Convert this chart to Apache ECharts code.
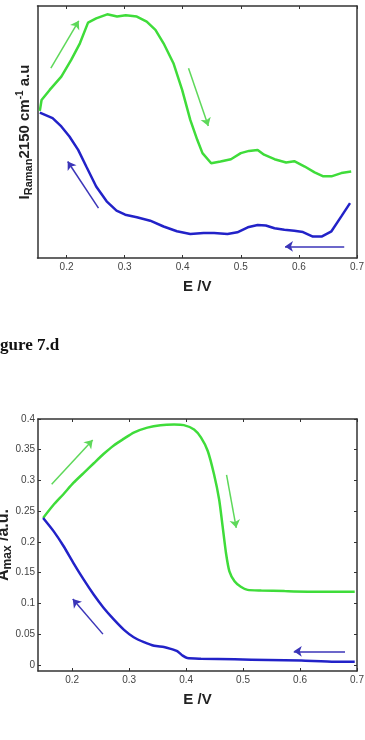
<!DOCTYPE html>
<html>
<head>
<meta charset="utf-8">
<script src="https://cdn.jsdelivr.net/npm/echarts@6/dist/echarts.min.js"></script>
<style>
  html, body { margin: 0; padding: 0; background: #fff; }
  #chart { width: 365px; height: 740px; }
</style>
</head>
<body>
<div id="chart"></div>
<script>
// --- top panel: Raman intensity at 2150 cm-1 (arbitrary units, 0..100) ---
var ramanUpE = [0.154, 0.157, 0.171, 0.191, 0.208, 0.223, 0.237, 0.251, 0.270, 0.287, 0.302, 0.321, 0.338, 0.353, 0.367, 0.384, 0.399, 0.413, 0.425, 0.434, 0.449, 0.465, 0.483, 0.500, 0.514, 0.529, 0.540, 0.558, 0.578, 0.592, 0.610, 0.627, 0.642, 0.656, 0.673, 0.690];
var ramanUpI = [58.4, 62.7, 66.7, 72.0, 78.6, 85.2, 93.4, 95.1, 96.7, 95.8, 96.3, 95.8, 93.8, 90.5, 85.2, 77.3, 66.7, 54.8, 46.9, 41.6, 37.6, 38.3, 39.2, 41.6, 42.5, 42.9, 41.0, 39.2, 37.9, 38.4, 36.3, 34.0, 32.4, 32.4, 33.7, 34.3];
var ramanDownE = [0.154, 0.176, 0.191, 0.205, 0.220, 0.234, 0.251, 0.269, 0.286, 0.301, 0.321, 0.344, 0.367, 0.390, 0.413, 0.436, 0.454, 0.477, 0.494, 0.512, 0.529, 0.543, 0.558, 0.575, 0.592, 0.607, 0.624, 0.639, 0.656, 0.673, 0.688];
var ramanDownI = [57.7, 55.5, 52.2, 48.2, 42.9, 36.3, 28.4, 22.5, 18.8, 17.2, 16.2, 14.8, 12.5, 10.6, 9.5, 9.9, 9.9, 9.5, 10.2, 12.2, 13.1, 12.9, 11.8, 11.2, 10.8, 10.3, 8.5, 8.5, 10.6, 16.5, 21.8];
// scan-direction arrows [E1, I1, E2, I2]
var ramanUpArrows = [[0.173, 75.3, 0.221, 94.1], [0.410, 75.3, 0.444, 52.4]];
var ramanDownArrows = [[0.255, 19.8, 0.202, 38.3], [0.678, 4.6, 0.576, 4.6]];

// --- bottom panel: A max (a.u.) ---
var absUpE = [0.149, 0.167, 0.185, 0.202, 0.220, 0.238, 0.255, 0.273, 0.291, 0.308, 0.332, 0.355, 0.379, 0.396, 0.414, 0.426, 0.438, 0.449, 0.458, 0.464, 0.470, 0.476, 0.485, 0.496, 0.508, 0.532, 0.573, 0.632, 0.696];
var absUpA = [0.239, 0.260, 0.278, 0.296, 0.312, 0.328, 0.343, 0.357, 0.368, 0.378, 0.386, 0.390, 0.391, 0.390, 0.383, 0.370, 0.348, 0.310, 0.269, 0.226, 0.182, 0.152, 0.136, 0.127, 0.122, 0.121, 0.120, 0.119, 0.119];
var absDownE = [0.149, 0.167, 0.185, 0.202, 0.220, 0.238, 0.255, 0.273, 0.291, 0.308, 0.326, 0.344, 0.361, 0.373, 0.385, 0.394, 0.402, 0.426, 0.485, 0.544, 0.602, 0.661, 0.696];
var absDownA = [0.239, 0.218, 0.193, 0.166, 0.139, 0.114, 0.093, 0.074, 0.057, 0.045, 0.037, 0.031, 0.029, 0.026, 0.022, 0.015, 0.011, 0.010, 0.009, 0.008, 0.007, 0.005, 0.005];
var absUpArrows = [[0.164, 0.294, 0.236, 0.366], [0.471, 0.309, 0.488, 0.223]];
var absDownArrows = [[0.254, 0.050, 0.201, 0.107], [0.679, 0.022, 0.589, 0.022]];

var xTicks = [0.2, 0.3, 0.4, 0.5, 0.6, 0.7];
var absTicks = [0, 0.05, 0.1, 0.15, 0.2, 0.25, 0.3, 0.35, 0.4];

var font = '"Liberation Sans", Arial, sans-serif';
var axisCol = '#333';
var green = '#3fdc3a';
var blue = '#2222c8';
var greenArrow = '#5ed85a';
var blueArrow = '#3b35b8';

function zip(a, b) {
  return a.map(function(v, i) { return [v, b[i]]; });
}

function xAxis(gi, min, pos, labels, name) {
  return {
    type: 'value', gridIndex: gi, position: pos, min: min, max: 0.7,
    name: name, nameLocation: 'middle', nameGap: 21,
    nameTextStyle: { fontFamily: font, fontWeight: 'bold', fontSize: 15, color: '#222' },
    axisLine: { onZero: false, lineStyle: { color: axisCol, width: 1.5 } },
    axisTick: { show: true, inside: true, length: 3, customValues: xTicks, lineStyle: { color: axisCol } },
    axisLabel: { show: labels, customValues: xTicks, margin: 4, fontFamily: font, fontSize: 10, color: '#444' },
    splitLine: { show: false }
  };
}

function yAxis(gi, min, max, pos, ticks, name, gap, fs) {
  fs = fs || 15;
  return {
    type: 'value', gridIndex: gi, position: pos, min: min, max: max,
    name: name, nameLocation: 'middle', nameGap: gap, nameMoveOverlap: false,
    nameTextStyle: {
      fontFamily: font, fontWeight: 'bold', fontSize: fs, color: '#222',
      rich: {
        b: { fontFamily: font, fontWeight: 'bold', fontSize: fs, color: '#222' },
        sub: { fontFamily: font, fontWeight: 'bold', fontSize: fs - 4, color: '#222', padding: [9, 0, 0, 0] },
        sup: { fontFamily: font, fontWeight: 'bold', fontSize: fs - 5, color: '#222', padding: [0, 0, 9, 0] }
      }
    },
    axisLine: { onZero: false, lineStyle: { color: axisCol, width: 1.5 } },
    axisTick: { show: !!ticks, inside: true, length: 3, customValues: ticks || undefined, lineStyle: { color: axisCol } },
    axisLabel: { show: !!ticks && pos === 'left', customValues: ticks || undefined, margin: 3, fontFamily: font, fontSize: 10, color: '#444' },
    splitLine: { show: false }
  };
}

function lineSeries(xi, E, V, color, smooth) {
  return {
    type: 'line', xAxisIndex: xi, yAxisIndex: xi === 0 ? 0 : 2,
    data: zip(E, V), showSymbol: false, smooth: smooth, silent: true,
    lineStyle: { color: color, width: 2.5 }
  };
}

function arrowSeries(xi, arrows, color) {
  return {
    type: 'lines', coordinateSystem: 'cartesian2d', xAxisIndex: xi, yAxisIndex: xi === 0 ? 0 : 2,
    symbol: ['none', 'arrow'], symbolSize: 8, silent: true,
    lineStyle: { color: color, width: 1.5, opacity: 1, curveness: 0 },
    data: arrows.map(function(a) { return { coords: [[a[0], a[1]], [a[2], a[3]]] }; })
  };
}

var chart = echarts.init(document.getElementById('chart'), null, { renderer: 'canvas' });
chart.setOption({
  animation: false,
  backgroundColor: '#fff',
  grid: [
    { left: 37.5, top: 6, width: 319.5, height: 252, outerBoundsMode: 'none', containLabel: false },
    { left: 38, top: 419, width: 319, height: 252, outerBoundsMode: 'none', containLabel: false }
  ],
  xAxis: [
    xAxis(0, 0.15, 'bottom', true, 'E /V'),
    xAxis(0, 0.15, 'top', false, ''),
    xAxis(1, 0.14, 'bottom', true, 'E /V'),
    xAxis(1, 0.14, 'top', false, '')
  ],
  yAxis: [
    yAxis(0, 0, 100, 'left', null, '{b|I}{sub|Raman}{b|2150 cm}{sup|-1}{b| a.u}', 3),
    yAxis(0, 0, 100, 'right', null, ''),
    yAxis(1, -0.01, 0.4, 'left', absTicks, '{b|A}{sub|max}{b| /a.u.}', 24, 16),
    yAxis(1, -0.01, 0.4, 'right', absTicks, '')
  ],
  graphic: [{
    type: 'text', x: -15, y: 346,
    style: { text: 'Figure 7.d', font: 'bold 17px "Liberation Serif", serif', fill: '#111', verticalAlign: 'middle' }
  }],
  series: [
    lineSeries(0, ramanUpE, ramanUpI, green, false),
    lineSeries(0, ramanDownE, ramanDownI, blue, false),
    arrowSeries(0, ramanUpArrows, greenArrow),
    arrowSeries(0, ramanDownArrows, blueArrow),
    lineSeries(2, absUpE, absUpA, green, 0.2),
    lineSeries(2, absDownE, absDownA, blue, 0.2),
    arrowSeries(2, absUpArrows, greenArrow),
    arrowSeries(2, absDownArrows, blueArrow)
  ]
});
</script>
</body>
</html>
